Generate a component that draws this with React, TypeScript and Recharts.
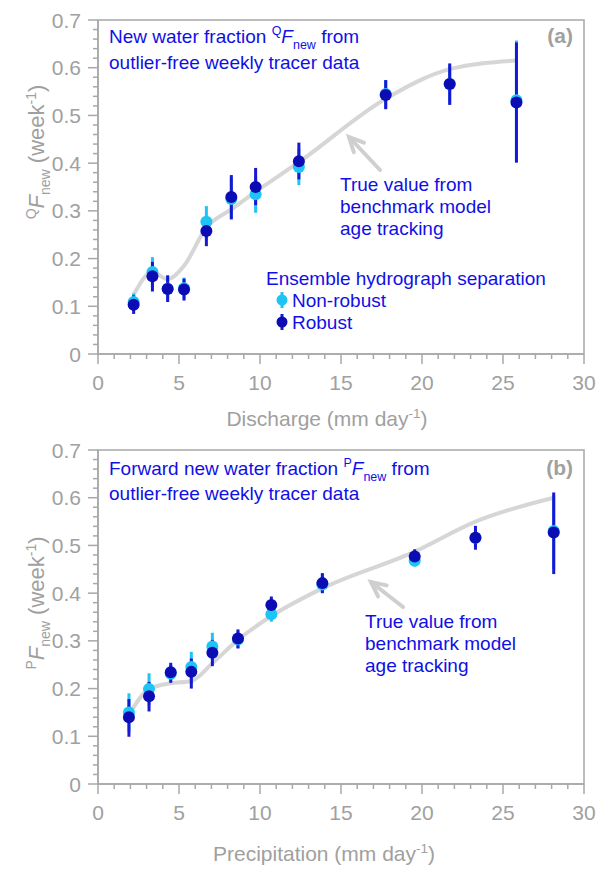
import { ComposedChart, Line, Scatter, ErrorBar, XAxis, YAxis, ReferenceArea } from 'recharts';

// panel (a): discharge bins
const qX = [2.2, 3.36, 4.3, 5.31, 6.69, 8.23, 9.73, 12.4, 17.76, 21.71, 25.83];
const qTrue = [0.124, 0.172, 0.157, 0.185, 0.265, 0.303, 0.34, 0.402, 0.535, 0.597, 0.615];
const qRobust = [0.103, 0.163, 0.136, 0.135, 0.258, 0.329, 0.35, 0.404, 0.543, 0.566, 0.527];
const qRobustLo = [0.084, 0.131, 0.109, 0.112, 0.226, 0.282, 0.312, 0.366, 0.513, 0.522, 0.401];
const qRobustHi = [0.123, 0.193, 0.165, 0.158, 0.286, 0.375, 0.39, 0.443, 0.574, 0.609, 0.653];
const qNonRobust = [0.109, 0.172, 0.137, 0.138, 0.277, 0.325, 0.335, 0.392, 0.545, 0.566, 0.532];
const qNonRobustLo = [0.09, 0.14, 0.112, 0.115, 0.24, 0.285, 0.296, 0.354, 0.515, 0.525, 0.405];
const qNonRobustHi = [0.127, 0.203, 0.163, 0.16, 0.31, 0.37, 0.375, 0.43, 0.574, 0.605, 0.657];

// panel (b): precipitation bins
const pX = [1.91, 3.15, 4.49, 5.76, 7.06, 8.64, 10.7, 13.85, 19.55, 23.3, 28.13];
const pTrue = [0.145, 0.199, 0.211, 0.216, 0.253, 0.302, 0.352, 0.41, 0.487, 0.55, 0.6];
const pRobust = [0.14, 0.184, 0.234, 0.235, 0.275, 0.305, 0.375, 0.421, 0.477, 0.516, 0.527];
const pRobustLo = [0.099, 0.152, 0.212, 0.2, 0.247, 0.284, 0.355, 0.4, 0.457, 0.491, 0.44];
const pRobustHi = [0.178, 0.214, 0.254, 0.263, 0.302, 0.324, 0.393, 0.442, 0.492, 0.541, 0.611];
const pNonRobust = [0.15, 0.199, 0.231, 0.245, 0.288, 0.303, 0.356, 0.418, 0.468, 0.516, 0.53];
const pNonRobustLo = [0.11, 0.165, 0.215, 0.21, 0.26, 0.285, 0.34, 0.4, 0.456, 0.495, 0.45];
const pNonRobustHi = [0.19, 0.232, 0.25, 0.277, 0.317, 0.32, 0.37, 0.44, 0.485, 0.535, 0.605];

const xMajor = [0, 5, 10, 15, 20, 25, 30];
const yMajor = [0, 0.1, 0.2, 0.3, 0.4, 0.5, 0.6, 0.7];
const xTicks = Array.from({ length: 31 }, (_, i) => i);
const yTicks = Array.from({ length: 36 }, (_, i) => +(i * 0.02).toFixed(2));

const FONT = '"Liberation Sans", Arial, sans-serif';
const AXIS = '#a8a8a8';
const LABEL = '#a0a0a0';
const BLUE = '#1010e6';
const LIGHT = '#1ec4f4';
const DARK = '#0c0cb4';
const DARK_BAR = '#1818d2';
const TRUTH = '#d6d6d6';

const TS = 10; // major tick length
const TM = 6;

function XTick(props: any) {
  const { x, y, payload } = props;
  const ay = y - TS - TM;
  const major = xMajor.includes(payload.value);
  return (
    <g>
      <line x1={x} x2={x} y1={ay} y2={ay + (major ? TS : 5)} stroke={AXIS} strokeWidth={1.5} />
      {major && (
        <text x={x} y={ay + 36} textAnchor="middle" fill={LABEL} fontSize={21} fontFamily={FONT}>
          {payload.value}
        </text>
      )}
    </g>
  );
}

function YTick(props: any) {
  const { x, y, payload } = props;
  const ax = x + TS + TM;
  const major = yMajor.some((m) => Math.abs(m - payload.value) < 1e-6);
  return (
    <g>
      <line x1={ax} x2={ax - (major ? TS : 5)} y1={y} y2={y} stroke={AXIS} strokeWidth={1.5} />
      {major && (
        <text x={ax - 17} y={y + 7.5} textAnchor="end" fill={LABEL} fontSize={21} fontFamily={FONT}>
          {payload.value === 0 ? '0' : payload.value.toFixed(1)}
        </text>
      )}
    </g>
  );
}

function rows(xs: number[], ys: number[], lo: number[], hi: number[]) {
  return xs.map((x, i) => ({ x, y: ys[i], err: [ys[i] - lo[i], hi[i] - ys[i]] }));
}

interface PanelProps {
  top: number;
  xs: number[];
  truth: number[];
  rob: number[];
  robLo: number[];
  robHi: number[];
  nr: number[];
  nrLo: number[];
  nrHi: number[];
}

function Panel({ top, xs, truth, rob, robLo, robHi, nr, nrLo, nrHi }: PanelProps) {
  const truthRows = xs.map((x, i) => ({ x, y: truth[i] }));
  const robRows = rows(xs, rob, robLo, robHi);
  const nrRows = rows(xs, nr, nrLo, nrHi);
  return (
    <div style={{ position: 'absolute', left: 0, top }}>
      <ComposedChart width={598} height={404} margin={{ top: 20, right: 14, bottom: 0, left: 0 }}>
        <XAxis
          type="number"
          dataKey="x"
          domain={[0, 30]}
          ticks={xTicks}
          interval={0}
          height={50}
          stroke={AXIS}
          strokeWidth={1.5}
          tickLine={false}
          tickSize={TS}
          tickMargin={TM}
          tick={<XTick />}
        />
        <YAxis
          type="number"
          dataKey="y"
          domain={[0, 0.7]}
          ticks={yTicks}
          interval={0}
          width={98}
          stroke={AXIS}
          strokeWidth={1.5}
          tickLine={false}
          tickSize={TS}
          tickMargin={TM}
          tick={<YTick />}
        />
        <ReferenceArea x1={0} x2={30} y1={0} y2={0.7} fill="none" stroke={AXIS} strokeWidth={1.5} />
        <Line
          data={truthRows}
          dataKey="y"
          type="monotone"
          stroke={TRUTH}
          strokeWidth={4}
          dot={false}
          isAnimationActive={false}
        />
        <Scatter
          data={nrRows}
          dataKey="y"
          isAnimationActive={false}
          shape={(p: any) => <circle cx={p.cx} cy={p.cy} r={6} fill={LIGHT} />}
        >
          <ErrorBar dataKey="err" direction="y" width={0} strokeWidth={3} stroke={LIGHT} />
        </Scatter>
        <Scatter
          data={robRows}
          dataKey="y"
          isAnimationActive={false}
          shape={(p: any) => <circle cx={p.cx} cy={p.cy} r={6} fill={DARK} />}
        >
          <ErrorBar dataKey="err" direction="y" width={0} strokeWidth={3} stroke={DARK_BAR} />
        </Scatter>
      </ComposedChart>
    </div>
  );
}

function Arrow({ x1, y1, x2, y2 }: { x1: number; y1: number; x2: number; y2: number }) {
  // x2,y2 is the tip
  const a = Math.atan2(y1 - y2, x1 - x2);
  const h = 16;
  const s = 0.45;
  const p1 = [x2 + h * Math.cos(a + s), y2 + h * Math.sin(a + s)];
  const p2 = [x2 + h * Math.cos(a - s), y2 + h * Math.sin(a - s)];
  return (
    <g stroke="#cfcfcf" strokeWidth={4} fill="none" strokeLinecap="round">
      <line x1={x1} y1={y1} x2={x2} y2={y2} />
      <polyline points={`${p1[0]},${p1[1]} ${x2},${y2} ${p2[0]},${p2[1]}`} strokeLinejoin="miter" />
    </g>
  );
}

function LegendMark({ x, y, color, bar }: { x: number; y: number; color: string; bar: string }) {
  return (
    <g>
      <line x1={x} x2={x} y1={y - 8} y2={y + 8} stroke={bar} strokeWidth={3} />
      <circle cx={x} cy={y} r={5.5} fill={color} />
    </g>
  );
}

function Overlay() {
  const t = { fontFamily: FONT };
  return (
    <svg width={598} height={871} style={{ position: 'absolute', left: 0, top: 0, pointerEvents: 'none' }}>
      {/* panel a */}
      <text x={109} y={43} fill={BLUE} fontSize={19} {...t}>
        New water fraction{' '}
        <tspan dy={-8} fontSize={12.5}>Q</tspan>
        <tspan dy={8} fontStyle="italic">F</tspan>
        <tspan dy={6} fontSize={12.5}>new</tspan>
        <tspan dy={-6}> from</tspan>
      </text>
      <text x={109} y={69} fill={BLUE} fontSize={19} {...t}>outlier-free weekly tracer data</text>
      <text x={573} y={43} fill={LABEL} fontSize={21} fontWeight="bold" textAnchor="end" {...t}>(a)</text>
      <text fill={BLUE} fontSize={19} {...t}>
        <tspan x={340} y={191}>True value from</tspan>
        <tspan x={340} y={213}>benchmark model</tspan>
        <tspan x={340} y={235}>age tracking</tspan>
      </text>
      <Arrow x1={380} y1={170} x2={349} y2={137} />
      <text x={266} y={285} fill={BLUE} fontSize={19} {...t}>Ensemble hydrograph separation</text>
      <LegendMark x={282} y={300} color={LIGHT} bar={LIGHT} />
      <text x={292} y={307} fill={BLUE} fontSize={19} {...t}>Non-robust</text>
      <LegendMark x={282} y={322} color={DARK} bar={DARK_BAR} />
      <text x={292} y={329} fill={BLUE} fontSize={19} {...t}>Robust</text>
      <text x={327} y={426} fill={LABEL} fontSize={21} textAnchor="middle" {...t}>
        Discharge (mm day<tspan dy={-8} fontSize={13.5}>-1</tspan>
        <tspan dy={8}>)</tspan>
      </text>
      <text transform="translate(44,152) rotate(-90)" fill={LABEL} fontSize={22} textAnchor="middle" {...t}>
        <tspan dy={-8} fontSize={14}>Q</tspan>
        <tspan dy={8} fontStyle="italic">F</tspan>
        <tspan dy={6} fontSize={14}>new</tspan>
        <tspan dy={-6}> (week</tspan>
        <tspan dy={-8} fontSize={14}>-1</tspan>
        <tspan dy={8}>)</tspan>
      </text>

      {/* panel b */}
      <text x={109} y={475} fill={BLUE} fontSize={19} {...t}>
        Forward new water fraction{' '}
        <tspan dy={-8} fontSize={12.5}>P</tspan>
        <tspan dy={8} fontStyle="italic">F</tspan>
        <tspan dy={6} fontSize={12.5}>new</tspan>
        <tspan dy={-6}> from</tspan>
      </text>
      <text x={109} y={500} fill={BLUE} fontSize={19} {...t}>outlier-free weekly tracer data</text>
      <text x={573} y={475} fill={LABEL} fontSize={21} fontWeight="bold" textAnchor="end" {...t}>(b)</text>
      <text fill={BLUE} fontSize={19} {...t}>
        <tspan x={365} y={628}>True value from</tspan>
        <tspan x={365} y={650}>benchmark model</tspan>
        <tspan x={365} y={672}>age tracking</tspan>
      </text>
      <Arrow x1={403} y1={607} x2={371} y2={582} />
      <text x={324} y={861} fill={LABEL} fontSize={21} textAnchor="middle" {...t}>
        Precipitation (mm day<tspan dy={-8} fontSize={13.5}>-1</tspan>
        <tspan dy={8}>)</tspan>
      </text>
      <text transform="translate(44,603) rotate(-90)" fill={LABEL} fontSize={22} textAnchor="middle" {...t}>
        <tspan dy={-8} fontSize={14}>P</tspan>
        <tspan dy={8} fontStyle="italic">F</tspan>
        <tspan dy={6} fontSize={14}>new</tspan>
        <tspan dy={-6}> (week</tspan>
        <tspan dy={-8} fontSize={14}>-1</tspan>
        <tspan dy={8}>)</tspan>
      </text>
    </svg>
  );
}

export default function App() {
  return (
    <div style={{ position: 'absolute', left: 0, top: 0, width: 598, height: 871, background: '#fff', fontFamily: FONT }}>
      <Panel
        top={0}
        xs={qX}
        truth={qTrue}
        rob={qRobust}
        robLo={qRobustLo}
        robHi={qRobustHi}
        nr={qNonRobust}
        nrLo={qNonRobustLo}
        nrHi={qNonRobustHi}
      />
      <Panel
        top={430}
        xs={pX}
        truth={pTrue}
        rob={pRobust}
        robLo={pRobustLo}
        robHi={pRobustHi}
        nr={pNonRobust}
        nrLo={pNonRobustLo}
        nrHi={pNonRobustHi}
      />
      <Overlay />
    </div>
  );
}
